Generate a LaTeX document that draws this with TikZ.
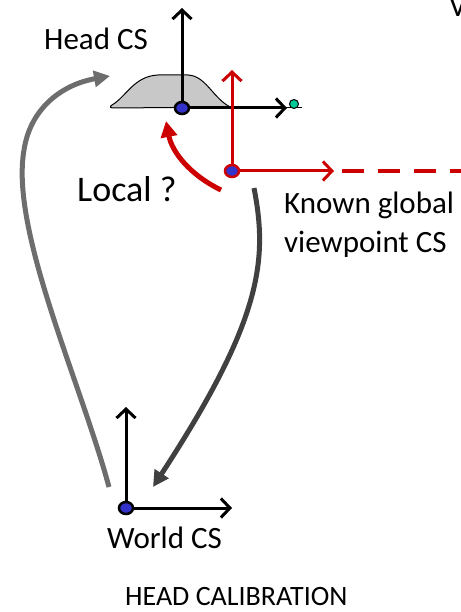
\documentclass[tikz,border=0pt]{standalone}
\usepackage{fontspec}
\setmainfont{Carlito}
\usetikzlibrary{arrows.meta,shapes.geometric}
\definecolor{cred}{HTML}{CC0000}
\definecolor{cblue}{HTML}{3333CC}
\definecolor{cgreen}{HTML}{00C896}
\definecolor{lgray}{HTML}{6D6D6D}
\definecolor{dgray}{HTML}{404040}
\definecolor{headfill}{HTML}{C8C8C8}
\begin{document}
\begin{tikzpicture}[x=1pt,y=-1pt,
  axis/.style={line width=3pt,-{Straight Barb[length=9pt,width=19pt]}},
  origin/.style={ellipse,draw,line width=2.5pt,fill=cblue,minimum width=14pt,minimum height=12pt,inner sep=0pt},
  lbl/.style={font=\fontsize{31}{34}\selectfont,inner sep=0pt,anchor=base west},
  flow/.style={line width=5pt,-{Triangle[length=16pt,width=16pt]}},
]
\useasboundingbox (0,0) rectangle (460,612);

% head silhouette
\draw[line width=1pt,fill=headfill] (112,105) .. controls (126,97) and (134,76) .. (158,75)
  -- (188,75) .. controls (206,76) and (212,97) .. (230,107) -- (115,108) .. controls (110,108) and (109,107) .. (112,105);

% head coordinate system
\coordinate (hx) at (287,108);
\coordinate (hy) at (182,8);
\draw[line width=1pt] (182,108) -- (302,108);
\draw[axis] (182,108) -- (hx);
\draw[axis] (182,108) -- (hy);
\node[circle,draw,line width=1pt,fill=cgreen,minimum size=9pt,inner sep=0pt] (nose) at (294,104) {};
\node[origin] (head) at (182,108) {};
\node[lbl] (headlbl) at (44,50) {Head CS};

% known global viewpoint coordinate system
\coordinate (vx) at (334,171);
\coordinate (vy) at (232,70);
\coordinate (vdash) at (470,171);
\draw[cred,line width=4pt,dash pattern=on 22pt off 14pt] (342,171) -- (vdash);
\draw[axis,cred] (232,171) -- (vx);
\draw[axis,cred] (232,171) -- (vy);
\node[origin,draw=cred] (view) at (232,171) {};
\coordinate (lstart) at (221,190);
\coordinate (ltip) at (166,121);
\draw[cred,line width=5pt,-{Triangle[length=16pt,width=16pt]}] (lstart) .. controls (190,175) and (172,152) .. (ltip);
\node[lbl,font=\fontsize{36}{40}\selectfont] (local) at (77,202) {Local ?};
\node[lbl] (known) at (284,213) {Known global};
\node[lbl] (vp) at (284,252) {viewpoint CS};

% world coordinate system
\coordinate (wx) at (232,508);
\coordinate (wy) at (126,407);
\draw[axis] (126,508) -- (wx);
\draw[axis] (126,508) -- (wy);
\node[origin] (world) at (126,508) {};
\node[lbl] (worldlbl) at (107,548) {World CS};

% calibration transforms
\coordinate (a1) at (109,487);
\coordinate (a1tip) at (110,76);
\draw[lgray,flow] (a1) .. controls (80,380) and (10,230) .. (24,150) .. controls (30,110) and (60,85) .. (a1tip);
\coordinate (a2) at (254,188);
\coordinate (a2tip) at (153,487);
\draw[dgray,flow] (a2) .. controls (268,260) and (262,320) .. (a2tip);

\node[lbl,font=\fontsize{28}{32}\selectfont] (title) at (125,605) {HEAD CALIBRATION};
\node[lbl,anchor=north west] (cut) at (449,-4) {V};
\end{tikzpicture}
\end{document}
